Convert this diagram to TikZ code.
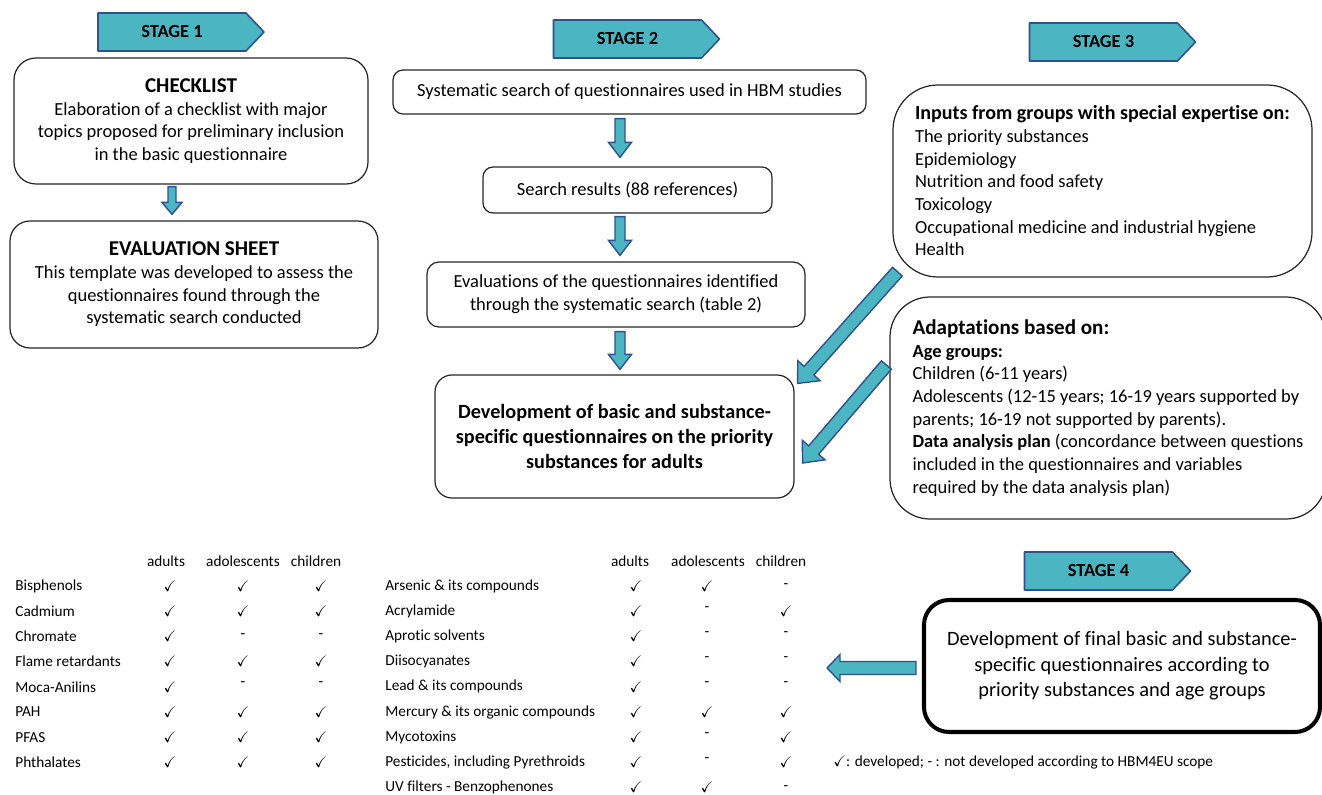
\documentclass[tikz,border=0pt]{standalone}
\usepackage{fontspec}
\setmainfont{Carlito}[Ligatures=NoCommon]
\usepackage{amssymb}
\usetikzlibrary{shapes.symbols,calc}
\definecolor{stagefill}{RGB}{75,181,193}
\definecolor{stageline}{RGB}{47,82,143}
\newcommand\fatarrow[5]{%
	\coordinate (fa-h) at ($(#2)!#5!(#1)$);
	\draw[fatarr] ($(#1)!#3!90:(#2)$) -- ($(fa-h)!#3!90:(#2)$) -- ($(fa-h)!#4!90:(#2)$) -- (#2)
	-- ($(fa-h)!#4!-90:(#2)$) -- ($(fa-h)!#3!-90:(#2)$) -- ($(#1)!#3!-90:(#2)$) -- cycle;}
\newcommand\cellmark[1]{\if y#1$\checkmark$\else\if u#1\raisebox{3pt}{-}\else -\fi\fi}
\begin{document}
\begin{tikzpicture}[x=0.2mm,y=-0.2mm,line join=round,
	stagetag/.style={signal,signal to=east,signal pointer angle=93,fill=stagefill,draw=stageline,line width=0.9pt,
		minimum width=33.2mm,minimum height=7.6mm,inner sep=0pt,font=\fontsize{10.5}{12}\selectfont\bfseries},
	qbox/.style={draw=black!85,line width=0.7pt,fill=white,rounded corners=#1,align=center,inner sep=0pt,
		font=\fontsize{10.5}{12.9}\selectfont},
	fatarr/.style={fill=stagefill,draw=stageline,line width=0.8pt,line join=miter},
	tabtext/.style={inner sep=0pt,font=\fontsize{8.7}{10}\selectfont}]
	\useasboundingbox (0,0) rectangle (1322,795);

	\node[stagetag] (stage1) at (172,32) {STAGE 1};
	\node[stagetag] (stage2) at (627.5,39) {STAGE 2};
	\node[stagetag] (stage3) at (1103.5,42) {STAGE 3};
	\node[stagetag] (stage4) at (1098.5,571) {STAGE 4};

	\node[qbox=4.4mm,minimum width=70.8mm,minimum height=25.2mm] (checklist) at (191,121)
		{\textbf{\fontsize{12}{12.9}\selectfont CHECKLIST}\\Elaboration of a checklist with major\\topics proposed for preliminary inclusion\\in the basic questionnaire};
	\node[qbox=4mm,minimum width=73.6mm,minimum height=25.4mm] (evalsheet) at (194,284.5)
		{\textbf{\fontsize{12}{12.9}\selectfont EVALUATION SHEET}\\This template was developed to assess the\\questionnaires found through the\\systematic search conducted};

	\node[qbox=2mm,minimum width=94.6mm,minimum height=8.8mm] (search) at (629.5,92)
		{Systematic search of questionnaires used in HBM studies};
	\node[qbox=2mm,minimum width=57.8mm,minimum height=9.2mm] (results) at (627.5,190)
		{Search results (88 references)};
	\node[qbox=2.4mm,minimum width=75.6mm,minimum height=13mm] (evals) at (616,294.5)
		{Evaluations of the questionnaires identified\\through the systematic search (table 2)};
	\node[qbox=3.4mm,minimum width=71.8mm,minimum height=24.6mm,font=\fontsize{11.5}{14.2}\selectfont\bfseries] (devbasic) at (614.5,436.5)
		{Development of basic and substance-\\specific questionnaires on the priority\\substances for adults};

	\node[qbox=9mm,minimum width=83.8mm,minimum height=38.4mm,align=left] (inputs) at (1102.5,181)
		{\textbf{\fontsize{11.4}{12.9}\selectfont Inputs from groups with special expertise on:}\\The priority substances\\Epidemiology\\Nutrition and food safety\\Toxicology\\Occupational medicine and industrial hygiene\\Health};
	\node[qbox=8mm,minimum width=87.2mm,minimum height=44.4mm,align=left] (adapt) at (1108,408)
		{\textbf{\fontsize{12}{12.9}\selectfont Adaptations based on:}\\\textbf{Age groups:}\\Children (6-11 years)\\Adolescents (12-15 years; 16-19 years supported by\\parents; 16-19 not supported by parents).\\\textbf{Data analysis plan} (concordance between questions\\included in the questionnaires and variables\\required by the data analysis plan)};

	\node[qbox=5mm,draw=black,line width=2.3pt,minimum width=79.2mm,minimum height=26.4mm,font=\fontsize{11.6}{14.5}\selectfont] (final) at (1122,666)
		{Development of final basic and substance-\\specific questionnaires according to\\priority substances and age groups};

	\coordinate (a1s) at ($(checklist.south)+(-19,2)$);
	\coordinate (a1e) at ($(evalsheet.north)+(-22,-6)$);
	\coordinate (a2s) at ($(search.south)+(-9.5,4)$);
	\coordinate (a2e) at ($(results.north)+(-7.5,-9)$);
	\coordinate (a3s) at ($(results.south)+(-7.5,3)$);
	\coordinate (a3e) at ($(evals.north)+(4,-6)$);
	\coordinate (a4s) at ($(evals.south)+(4,4)$);
	\coordinate (a4e) at ($(devbasic.north)+(5.5,-5)$);
	\coordinate (d1s) at ($(inputs.south west)+(5,-6)$);
	\coordinate (d1e) at ($(devbasic.north east)+(3,9)$);
	\coordinate (d2s) at ($(adapt.west)+(-3,-43)$);
	\coordinate (d2e) at ($(devbasic.east)+(8,26.5)$);
	\coordinate (ls) at ($(final.west)+(-6,2)$);
	\coordinate (lefttip) at (827,668);

	\fatarrow{a1s}{a1e}{0.8mm}{2mm}{2.4mm}
	\fatarrow{a2s}{a2e}{1mm}{2.3mm}{3mm}
	\fatarrow{a3s}{a3e}{1mm}{2.3mm}{3mm}
	\fatarrow{a4s}{a4e}{1mm}{2.3mm}{3mm}
	\fatarrow{d1s}{d1e}{1.3mm}{3mm}{3.4mm}
	\fatarrow{d2s}{d2e}{1.3mm}{3mm}{3.4mm}
	\fatarrow{ls}{lefttip}{1.3mm}{2.7mm}{2.6mm}

	\node[tabtext] (tah1) at (166,561) {adults};
	\node[tabtext] (tah2) at (243,561) {adolescents};
	\node[tabtext] (tah3) at (316,561) {children};
	\foreach \nm/\ca/\cb/\cc [count=\i] in {Bisphenols/y/y/y,Cadmium/y/y/y,Chromate/y/-/-,Flame retardants/y/y/y,
		Moca-Anilins/y/u/u,PAH/y/y/y,PFAS/y/y/y,Phthalates/y/y/y}{
		\node[tabtext,anchor=west] (ta-\i) at (15,586+25.2*\i-25.2) {\nm};
		\node[tabtext] (ta-\i-1) at (170,586+25.2*\i-25.2) {\cellmark{\ca}};
		\node[tabtext] (ta-\i-2) at (243,586+25.2*\i-25.2) {\cellmark{\cb}};
		\node[tabtext] (ta-\i-3) at (321,586+25.2*\i-25.2) {\cellmark{\cc}};
	}
	\node[tabtext] (tbh1) at (630,561) {adults};
	\node[tabtext] (tbh2) at (708,561) {adolescents};
	\node[tabtext] (tbh3) at (781,561) {children};
	\foreach \nm/\ca/\cb/\cc [count=\i] in {Arsenic \& its compounds/y/y/-,Acrylamide/y/u/y,Aprotic solvents/y/u/u,
		Diisocyanates/y/u/u,Lead \& its compounds/y/u/u,Mercury \& its organic compounds/y/y/y,Mycotoxins/y/u/y,
		Pesticides{,} including Pyrethroids/y/u/y,UV filters - Benzophenones/y/y/-}{
		\node[tabtext,anchor=west] (tb-\i) at (385,586+25.2*\i-25.2) {\nm};
		\node[tabtext] (tb-\i-1) at (636,586+25.2*\i-25.2) {\cellmark{\ca}};
		\node[tabtext] (tb-\i-2) at (707,586+25.2*\i-25.2) {\cellmark{\cb}};
		\node[tabtext] (tb-\i-3) at (786,586+25.2*\i-25.2) {\cellmark{\cc}};
	}
	\node[tabtext,anchor=west] (legend) at (833,762) {$\checkmark$: developed; - : not developed according to HBM4EU scope};
\end{tikzpicture}
\end{document}
